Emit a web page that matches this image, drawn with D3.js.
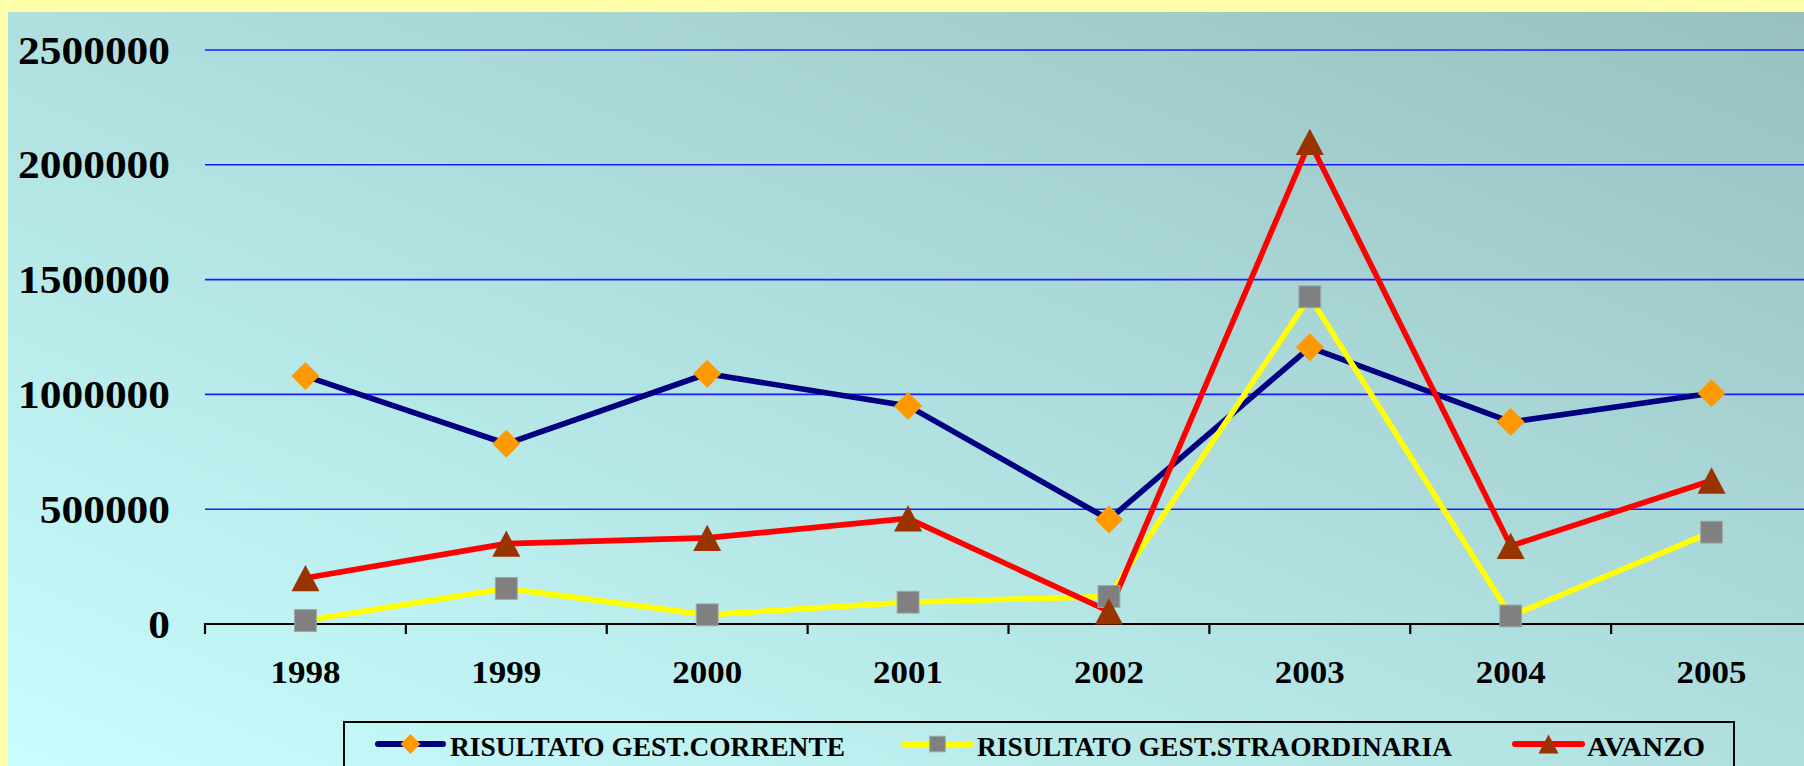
<!DOCTYPE html>
<html>
<head>
<meta charset="utf-8">
<script src="https://cdn.jsdelivr.net/npm/d3@7"></script>
<style>
  html, body { margin: 0; padding: 0; background: #ffffaa; overflow: hidden; }
  text { font-family: "Liberation Serif", "Times New Roman", serif; font-weight: bold; }
</style>
</head>
<body>
<div id="chart"></div>
<script>
const w = 1804
const h = 766
const years = ['1998', '1999', '2000', '2001', '2002', '2003', '2004', '2005']
const yTicks = [0, 500000, 1000000, 1500000, 2000000, 2500000]
const corrente = [1080000, 785000, 1090000, 950000, 455000, 1205000, 880000, 1005000]
const straordinaria = [15000, 155000, 40000, 95000, 120000, 1425000, 35000, 400000]
const avanzo = [200000, 350000, 375000, 460000, 55000, 2100000, 340000, 625000]
const seriesNames = ['RISULTATO GEST.CORRENTE', 'RISULTATO GEST.STRAORDINARIA', 'AVANZO']

const series = [
    {name: seriesNames[0], values: corrente, line: '#000080', fill: '#ff9900', shape: 'diamond'},
    {name: seriesNames[1], values: straordinaria, line: '#ffff00', fill: '#808080', shape: 'square'},
    {name: seriesNames[2], values: avanzo, line: '#ff0000', fill: '#993300', shape: 'triangle'}
]

const svg = d3.select('#chart')
    .append('svg')
    .attr('width', w)
    .attr('height', h)

const defs = svg.append('defs')
const grad = defs.append('linearGradient')
    .attr('id', 'bg')
    .attr('x1', 0).attr('y1', 1)
    .attr('x2', 1).attr('y2', 0)
grad.append('stop').attr('offset', '0%').attr('stop-color', '#c8fefe')
grad.append('stop').attr('offset', '100%').attr('stop-color', '#98c0c0')

svg.append('rect')
    .attr('width', w).attr('height', h)
    .attr('fill', '#ffffaa')

svg.append('rect')
    .attr('x', 8).attr('y', 12)
    .attr('width', w - 8).attr('height', h - 12)
    .attr('fill', 'url(#bg)')

const xScale = d3.scaleBand()
    .domain(years)
    .range([205, 1812])

const yScale = d3.scaleLinear()
    .domain([0, 2500000])
    .range([624, 50])

// gridlines
svg.append('g')
    .selectAll('line')
    .data(yTicks.filter(d => d > 0))
    .enter()
    .append('line')
    .attr('x1', 205)
    .attr('x2', w)
    .attr('y1', d => yScale(d))
    .attr('y2', d => yScale(d))
    .attr('stroke', '#1a1aff')
    .attr('stroke-width', 1.6)

// y axis labels
const yAxis = d3.axisLeft(yScale)
    .tickValues(yTicks)
    .tickSize(0)
    .tickPadding(0)
    .tickFormat(d3.format('d'))

const yg = svg.append('g')
    .attr('transform', 'translate(170,0)')
    .call(yAxis)
yg.select('.domain').remove()
yg.selectAll('text')
    .attr('font-size', 40)
    .attr('font-family', '"Liberation Serif", serif')
    .attr('fill', '#000')
    .attr('dy', 13)
    .attr('textLength', d => String(d).length * 21.7)
    .attr('lengthAdjust', 'spacingAndGlyphs')

// x axis
const xAxis = d3.axisBottom(xScale).tickSize(0).tickPadding(0)
const xg = svg.append('g')
    .attr('transform', 'translate(0,624)')
    .call(xAxis)
xg.select('.domain')
    .attr('stroke', '#000')
    .attr('stroke-width', 2.2)
    .attr('d', 'M' + xScale.range()[0] + ',10V0H' + xScale.range()[1])
xg.selectAll('text')
    .attr('font-size', 31)
    .attr('font-family', '"Liberation Serif", serif')
    .attr('fill', '#000')
    .attr('y', 59)
    .attr('dy', 0)
    .attr('textLength', 70)
    .attr('lengthAdjust', 'spacingAndGlyphs')

svg.append('g')
    .selectAll('line')
    .data(years.slice(1).map(d => xScale(d)).concat([xScale.range()[1]]))
    .enter()
    .append('line')
    .attr('x1', d => d).attr('x2', d => d)
    .attr('y1', 624).attr('y2', 634)
    .attr('stroke', '#000')
    .attr('stroke-width', 2.2)

const cx = d => xScale(d) + xScale.bandwidth() / 2

function marker(sel, shape, s, fill) {
    if (shape === 'diamond') {
        sel.append('path')
            .attr('d', `M0,${-s / 2}L${s / 2},0L0,${s / 2}L${-s / 2},0Z`)
            .attr('fill', fill)
    } else if (shape === 'square') {
        const q = s * 0.78
        sel.append('rect')
            .attr('x', -q / 2).attr('y', -q / 2)
            .attr('width', q).attr('height', q)
            .attr('fill', fill)
            .attr('stroke', '#9aa8a8')
            .attr('stroke-width', 1)
    } else {
        sel.append('path')
            .attr('d', `M0,${-s * 0.47}L${s / 2},${s * 0.47}L${-s / 2},${s * 0.47}Z`)
            .attr('fill', fill)
    }
}

const line = d3.line()
    .x((d, i) => cx(years[i]))
    .y(d => yScale(d))

// draw lines then markers, in series order
series.forEach(s => {
    svg.append('path')
        .datum(s.values)
        .attr('d', line)
        .attr('fill', 'none')
        .attr('stroke', s.line)
        .attr('stroke-width', 5.6)
        .attr('stroke-linejoin', 'miter')
})
series.forEach(s => {
    svg.append('g')
        .selectAll('g')
        .data(s.values)
        .enter()
        .append('g')
        .attr('transform', (d, i) => `translate(${cx(years[i])},${yScale(d)})`)
        .each(function () { marker(d3.select(this), s.shape, 28, s.fill) })
})

// legend
svg.append('rect')
    .attr('x', 344).attr('y', 722)
    .attr('width', 1390).attr('height', 70)
    .attr('fill', 'none')
    .attr('stroke', '#000')
    .attr('stroke-width', 2)

const legendPos = [
    {x1: 378, x2: 443, tx: 450, tl: 395},
    {x1: 904, x2: 971, tx: 977, tl: 475},
    {x1: 1515, x2: 1582, tx: 1587, tl: 118}
]

series.forEach((s, i) => {
    const p = legendPos[i]
    const g = svg.append('g')
    g.append('line')
        .attr('x1', p.x1).attr('x2', p.x2)
        .attr('y1', 744).attr('y2', 744)
        .attr('stroke', s.line)
        .attr('stroke-width', 6)
        .attr('stroke-linecap', 'round')
    marker(g.append('g').attr('transform', `translate(${(p.x1 + p.x2) / 2},744)`), s.shape, 20, s.fill)
    g.append('text')
        .attr('x', p.tx).attr('y', 756)
        .attr('font-size', 28)
        .attr('textLength', p.tl)
        .attr('lengthAdjust', 'spacingAndGlyphs')
        .text(s.name)
})
</script>
</body>
</html>
